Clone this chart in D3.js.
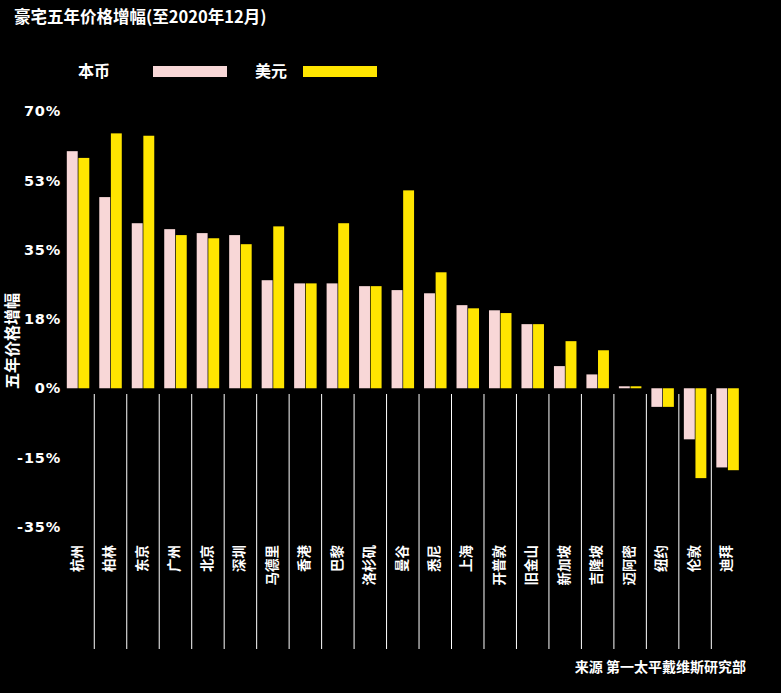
<!DOCTYPE html>
<html><head><meta charset="utf-8">
<script src="https://cdn.jsdelivr.net/npm/d3@7"></script>
<style>
html,body{margin:0;padding:0;background:#000;}
svg{display:block;}
text{font-family:"Noto Sans CJK SC","Noto Sans",sans-serif;fill:#fff;font-weight:700;}
</style></head>
<body>
<script>
const categories = ["杭州","柏林","东京","广州","北京","深圳","马德里","香港","巴黎","洛杉矶","曼谷","悉尼","上海","开普敦","旧金山","新加坡","吉隆坡","迈阿密","纽约","伦敦","迪拜"];
const localCurrency = [59.9,48.3,41.7,40.2,39.2,38.7,27.3,26.5,26.5,25.8,24.8,24.0,21.0,19.7,16.2,5.6,3.5,0.5,-4.7,-12.9,-20.0];
const usDollar      = [58.2,64.4,63.8,38.7,37.9,36.4,40.9,26.5,41.7,25.8,50.0,29.3,20.2,19.0,16.2,11.9,9.6,0.5,-4.7,-22.7,-20.7];
const seriesNames = ["本币","美元"];
const tickValues = [70,52.5,35,17.5,0,-17.5,-35];
const tickLabels = ["70%","53%","35%","18%","0%","-15%","-35%"];
const title = "豪宅五年价格增幅(至2020年12月)";
const yTitle = "五年价格增幅";
const source = "来源  第一太平戴维斯研究部";

const W = 781, H = 693;
const colors = ["#f8d7d7","#ffe500"];
const svg = d3.select("body").append("svg").attr("width",W).attr("height",H);
svg.append("rect").attr("width",W).attr("height",H).attr("fill","#000");

const x = d3.scaleBand().domain(categories).range([61.8,743.8]).padding(0);
const x1 = d3.scaleBand().domain(seriesNames).range([5,27.5]).paddingInner(0.06);
const y = d3.scaleLinear().domain([-35,70]).range([526.8,111.2]);

// title
svg.append("text").attr("x",14).attr("y",23).attr("font-size",16.5).text(title);

// legend
const legX = [[78,153],[255,303]];
seriesNames.forEach((s,i)=>{
  svg.append("text").attr("x",legX[i][0]).attr("y",71).attr("dy","0.35em").attr("font-size",16).text(s);
  svg.append("rect").attr("x",legX[i][1]).attr("y",66).attr("width",74).attr("height",11).attr("fill",colors[i]);
});

// y axis
const yAxis = d3.axisLeft(y).tickValues(tickValues).tickSize(0).tickPadding(0)
  .tickFormat((d,i)=>tickLabels[i]);
const ga = svg.append("g").attr("transform","translate(61,0)").call(yAxis);
ga.attr("font-size",null).attr("font-family",null);
ga.select(".domain").remove();
ga.selectAll("text").attr("font-size",14.5).attr("fill","#fff")
  .style("font-family","'DejaVu Sans',sans-serif").style("font-weight","700").style("letter-spacing","0.8px");

svg.append("text").attr("transform","translate(12,341) rotate(-90)")
  .attr("text-anchor","middle").attr("dy","0.35em").attr("font-size",16).text(yTitle);

// separators
svg.append("g").selectAll("line").data(categories.slice(1)).join("line")
  .attr("x1",d=>x(d)).attr("x2",d=>x(d)).attr("y1",394).attr("y2",649)
  .attr("stroke","#fff").attr("stroke-width",1);

// bars
const data = categories.map((c,i)=>({c, vals:[localCurrency[i],usDollar[i]]}));
const groups = svg.append("g").selectAll("g").data(data).join("g")
  .attr("transform",d=>`translate(${x(d.c)},0)`);
groups.selectAll("rect").data(d=>d.vals.map((v,i)=>({s:seriesNames[i],v,i}))).join("rect")
  .attr("x",d=>x1(d.s)).attr("width",x1.bandwidth())
  .attr("y",d=>Math.min(y(d.v),y(0))).attr("height",d=>Math.abs(y(d.v)-y(0)))
  .attr("fill",d=>colors[d.i]);

// category labels
svg.append("g").selectAll("text").data(categories).join("text")
  .attr("transform",d=>`translate(${x(d)+x.bandwidth()/2-1},545) rotate(-90)`)
  .attr("text-anchor","end").attr("dy","0.35em").attr("font-size",13.5).text(d=>d);

// source
svg.append("text").attr("x",746).attr("y",667).attr("dy","0.35em").attr("text-anchor","end")
  .attr("font-size",14).text(source);
</script>
</body></html>
